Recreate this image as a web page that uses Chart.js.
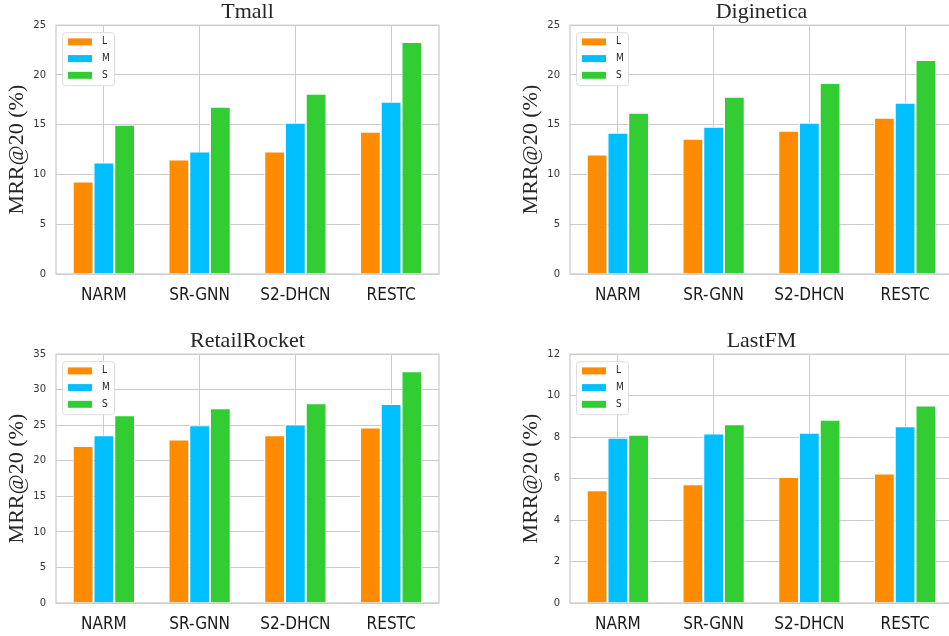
<!DOCTYPE html>
<html>
<head>
<meta charset="utf-8">
<script src="https://cdn.jsdelivr.net/npm/chart.js@4.4.0/dist/chart.umd.min.js"></script>
<style>
  html, body { margin: 0; padding: 0; background: #fff; overflow: hidden; width: 949px; height: 636px; position: relative; }
  canvas { position: absolute; }
</style>
</head>
<body>
<canvas id="tmall" width="475" height="307" style="left:0;top:0"></canvas>
<canvas id="diginetica" width="475" height="307" style="left:514px;top:0"></canvas>
<canvas id="retail" width="475" height="307" style="left:0;top:329px"></canvas>
<canvas id="lastfm" width="475" height="307" style="left:514px;top:329px"></canvas>
<script>
'use strict';

// *** Data ***

let methods = ['NARM', 'SR-GNN', 'S2-DHCN', 'RESTC'];
let groupLabels = ['L', 'M', 'S'];
let groupColors = ['#ff8c00', '#00bfff', '#32cd32'];

let tmallL = [9.3, 11.5, 12.3, 14.3];
let tmallM = [11.2, 12.3, 15.2, 17.3];
let tmallS = [15.0, 16.8, 18.1, 23.3];
let tmallTicks = [0, 5, 10, 15, 20, 25];

let digiL = [12.0, 13.6, 14.4, 15.7];
let digiM = [14.2, 14.8, 15.2, 17.2];
let digiS = [16.2, 17.8, 19.2, 21.5];
let digiTicks = [0, 5, 10, 15, 20, 25];

let retailL = [22.1, 23.0, 23.6, 24.7];
let retailM = [23.6, 25.0, 25.1, 28.0];
let retailS = [26.4, 27.4, 28.1, 32.6];
let retailTicks = [0, 5, 10, 15, 20, 25, 30, 35];

let lastfmL = [5.44, 5.73, 6.08, 6.24];
let lastfmM = [7.97, 8.18, 8.21, 8.52];
let lastfmS = [8.12, 8.62, 8.84, 9.53];
let lastfmTicks = [0, 2, 4, 6, 8, 10, 12];

// *** Plugins ***

// outline of the plot area plus the boxed legend in the upper left corner
let frameAndLegend = {
  id: 'frameAndLegend',
  afterDatasetsDraw(chart) {
    let c = chart.ctx;
    let a = chart.chartArea;
    c.save();
    c.strokeStyle = '#cccccc';
    c.lineWidth = 1.25;
    c.strokeRect(a.left, a.top, a.right - a.left, a.bottom - a.top);

    let x0 = a.left + 6;
    let y0 = a.top + 7;
    c.beginPath();
    c.roundRect(x0 + 0.5, y0 + 0.5, 52, 53, 3);
    c.fillStyle = '#ffffff';
    c.fill();
    c.strokeStyle = '#dcdcdc';
    c.lineWidth = 1;
    c.stroke();

    chart.data.datasets.forEach((ds, i) => {
      let cy = a.top + 16.7 * (i + 1);
      c.fillStyle = ds.backgroundColor;
      c.fillRect(a.left + 12, cy - 3.5, 24, 7);
      c.fillStyle = '#262626';
      c.font = '10px "DejaVu Sans Condensed", "DejaVu Sans", sans-serif';
      c.textBaseline = 'middle';
      c.textAlign = 'left';
      c.fillText(ds.label, a.left + 46, cy);
    });
    c.restore();
  }
};

// *** Chart builder ***

function makeChart(id, title, ticks, seriesL, seriesM, seriesS) {
  let series = [seriesL, seriesM, seriesS];
  let datasets = [];
  for (let i = 0; i < series.length; i++) {
    datasets.push({
      label: groupLabels[i],
      data: series[i],
      backgroundColor: groupColors[i],
      borderColor: '#ffffff',
      borderWidth: 1,
      categoryPercentage: 0.65,
      barPercentage: 1.0
    });
  }

  new Chart(document.getElementById(id), {
    type: 'bar',
    data: { labels: methods, datasets: datasets },
    options: {
      responsive: false,
      animation: false,
      events: [],
      layout: { padding: { left: 0, right: 36, top: 0, bottom: 0 } },
      plugins: {
        legend: { display: false },
        tooltip: { enabled: false },
        title: {
          display: true,
          text: title,
          fullSize: false,
          color: '#262626',
          font: { family: '"Liberation Serif", serif', size: 22, weight: 'normal', lineHeight: 1.1 },
          padding: { top: 0, bottom: 1 }
        }
      },
      scales: {
        x: {
          grid: { offset: false, color: '#cccccc', lineWidth: 1, drawTicks: false },
          border: { display: false },
          ticks: {
            color: '#1a1a1a',
            padding: 11,
            maxRotation: 0,
            autoSkip: false,
            font: { family: '"DejaVu Sans Condensed", "Liberation Sans Narrow", sans-serif', size: 17 }
          },
          afterFit(scale) { scale.height = 33; }
        },
        y: {
          min: ticks[0],
          max: ticks[ticks.length - 1],
          grid: { color: '#cccccc', lineWidth: 1, drawTicks: false },
          border: { display: false },
          ticks: {
            color: '#333333',
            padding: 10,
            font: { family: '"DejaVu Sans", sans-serif', size: 10 }
          },
          title: {
            display: true,
            text: 'MRR@20 (%)',
            color: '#262626',
            font: { family: '"Liberation Serif", serif', size: 22, weight: 'normal', lineHeight: 1.2 },
            padding: { top: 4, bottom: 0 }
          },
          afterBuildTicks(scale) { scale.ticks = ticks.map(v => ({ value: v })); },
          afterFit(scale) { scale.width = 56; }
        }
      }
    },
    plugins: [frameAndLegend]
  });
}

// *** Executable Code ***

makeChart('tmall', 'Tmall', tmallTicks, tmallL, tmallM, tmallS);
makeChart('diginetica', 'Diginetica', digiTicks, digiL, digiM, digiS);
makeChart('retail', 'RetailRocket', retailTicks, retailL, retailM, retailS);
makeChart('lastfm', 'LastFM', lastfmTicks, lastfmL, lastfmM, lastfmS);
</script>
</body>
</html>
